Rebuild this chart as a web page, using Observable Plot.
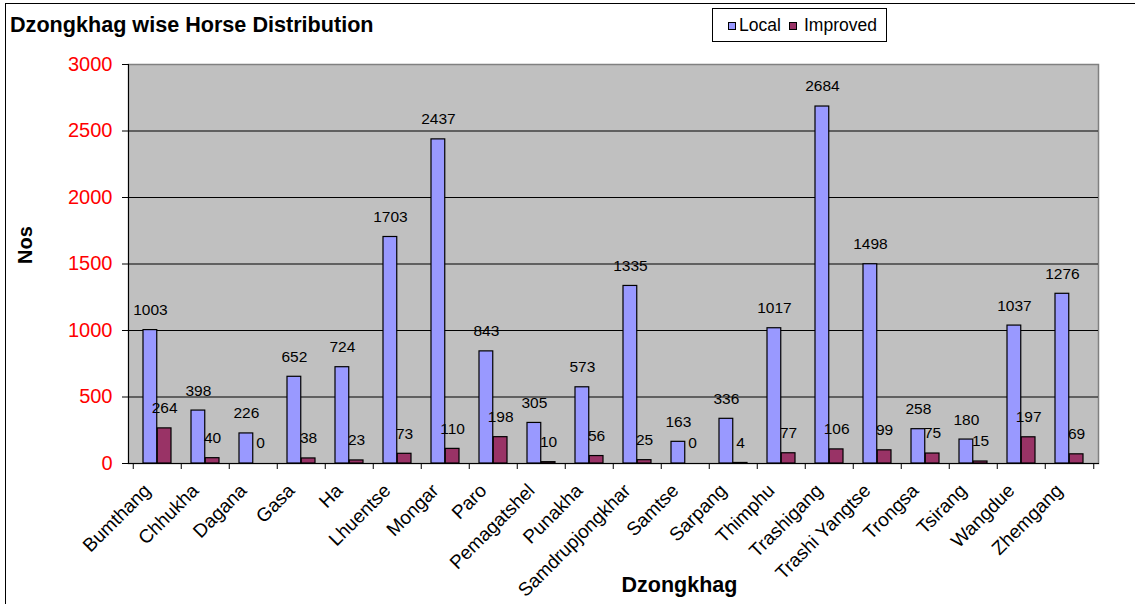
<!DOCTYPE html>
<html>
<head>
<meta charset="utf-8">
<script src="https://cdn.jsdelivr.net/npm/d3@7"></script>
<script src="https://cdn.jsdelivr.net/npm/@observablehq/plot@0.6"></script>
<style>
  html, body { margin: 0; padding: 0; background: #fff; overflow: hidden; }
  #wrap { position: relative; width: 1135px; height: 604px; font-family: "Liberation Sans", Arial, sans-serif; }
  #border { position: absolute; left: 5px; top: 3px; width: 1300px; height: 800px; border: 1px solid #000; box-sizing: border-box; }
  #header { position: relative; width: 1135px; height: 50px; }
  #title { position: absolute; left: 10px; top: 12px; font-size: 21.6px; font-weight: bold; color: #000; white-space: nowrap; }
  #legend { position: absolute; left: 712px; top: 8px; width: 175px; height: 34px; border: 1px solid #000; box-sizing: border-box; background: #fff; }
  .sw { position: absolute; width: 8px; height: 8px; border: 1px solid #000; box-sizing: border-box; top: 13px; }
  .lt { position: absolute; top: 6px; font-size: 17.5px; color: #000; white-space: nowrap; }
  #chart svg { display: block; }
</style>
</head>
<body>
<div id="wrap">
  <div id="border"></div>
  <div id="header">
    <div id="title"></div>
    <div id="legend"></div>
  </div>
  <div id="chart"></div>
</div>
<script>
const titleText = "Dzongkhag wise Horse Distribution";
const dzongkhags = ["Bumthang","Chhukha","Dagana","Gasa","Ha","Lhuentse","Mongar","Paro","Pemagatshel","Punakha","Samdrupjongkhar","Samtse","Sarpang","Thimphu","Trashigang","Trashi Yangtse","Trongsa","Tsirang","Wangdue","Zhemgang"];
const localValues = [1003,398,226,652,724,1703,2437,843,305,573,1335,163,336,1017,2684,1498,258,180,1037,1276];
const improvedValues = [264,40,0,38,23,73,110,198,10,56,25,0,4,77,106,99,75,15,197,69];
const seriesNames = ["Local","Improved"];
const seriesColors = ["#9999FF","#993366"];
const yTicks = [0,500,1000,1500,2000,2500,3000];
const yLabel = "Nos";
const xLabel = "Dzongkhag";

document.getElementById("title").textContent = titleText;
const legend = document.getElementById("legend");
const legendPos = [[15, 26], [76, 91]];
seriesNames.forEach((s, i) => {
  const sw = document.createElement("div");
  sw.className = "sw";
  sw.style.left = legendPos[i][0] + "px";
  sw.style.background = seriesColors[i];
  legend.appendChild(sw);
  const t = document.createElement("div");
  t.className = "lt";
  t.style.left = legendPos[i][1] + "px";
  t.textContent = s;
  legend.appendChild(t);
});

const W = 1135, H = 554;
const mL = 128, mR = 37, mT = 14, mB = 141;
const bw = (W - mL - mR) / dzongkhags.length;
const half = bw / 2;
const gapOuter = 10;
const barCenterOffset = (gapOuter + half) / 2 - half;

const localRows = dzongkhags.map((d, i) => ({dz: d, value: localValues[i]}));
const improvedRows = dzongkhags.map((d, i) => ({dz: d, value: improvedValues[i]}));
const pxToY = 3000 / (H - mT - mB);

const plot = Plot.plot({
  width: W,
  height: H,
  marginLeft: mL,
  marginRight: mR,
  marginTop: mT,
  marginBottom: mB,
  style: {fontFamily: "'Liberation Sans', Arial, sans-serif", background: "transparent", color: "#000"},
  x: {domain: dzongkhags, padding: 0, label: null},
  y: {domain: [0, 3000], label: null},
  marks: [
    Plot.frame({fill: "#C0C0C0", stroke: "#808080", strokeWidth: 1.5}),
    Plot.ruleY(yTicks.filter(v => v > 0 && v < 3000), {stroke: "#000", strokeWidth: 1}),
    Plot.frame({anchor: "left", stroke: "#000"}),
    Plot.frame({anchor: "bottom", stroke: "#000"}),
    Plot.ruleX(dzongkhags, {x: d => d, dx: -half, y1: 0, y2: -6 * pxToY, stroke: "#000"}),
    Plot.ruleX([dzongkhags[dzongkhags.length - 1]], {x: d => d, dx: half, y1: 0, y2: -6 * pxToY, stroke: "#000"}),
    Plot.barY(localRows, {x: "dz", y: "value", fill: seriesColors[0], stroke: "#000", strokeWidth: 1.2, insetLeft: gapOuter, insetRight: half}),
    Plot.barY(improvedRows, {x: "dz", y: "value", fill: seriesColors[1], stroke: "#000", strokeWidth: 1.2, insetLeft: half, insetRight: gapOuter}),
    Plot.text(localRows, {x: "dz", y: "value", text: d => String(d.value), dx: barCenterOffset, dy: -20, fontSize: 15.5, fill: "#000"}),
    Plot.text(improvedRows, {x: "dz", y: "value", text: d => String(d.value), dx: -barCenterOffset, dy: -20, fontSize: 15.5, fill: "#000"}),
    Plot.axisY({ticks: yTicks, tickFormat: d => String(d), tickSize: 6, tickPadding: 10, fontSize: 20, fill: "#FF0000", stroke: "#000", label: null}),
    Plot.axisX({tickRotate: -45, tickSize: 0, tickPadding: 24, dx: -10, fontSize: 19, fill: "#000", label: null}),
    Plot.text([yLabel], {frameAnchor: "left", rotate: -90, dx: -103, fontSize: 20, fontWeight: "bold", fill: "#000"}),
    Plot.text([xLabel], {frameAnchor: "bottom", dx: 66, dy: 128, fontSize: 21.5, fontWeight: "bold", fill: "#000"})
  ]
});
document.getElementById("chart").appendChild(plot);
</script>
</body>
</html>
